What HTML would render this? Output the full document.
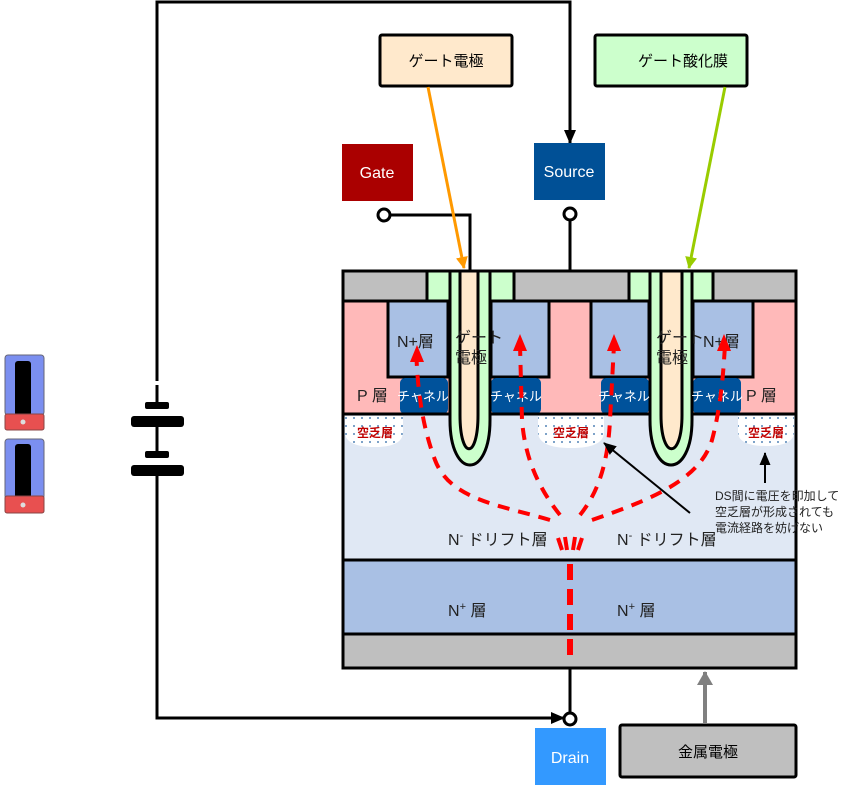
<!DOCTYPE html>
<html><head><meta charset="utf-8"><style>
body{margin:0;background:#fff}
svg{display:block;font-family:"Liberation Sans","Noto Sans CJK JP",sans-serif}
</style></head><body>
<svg width="866" height="785" viewBox="0 0 866 785" xmlns="http://www.w3.org/2000/svg">
<defs>
<marker id="ab" markerWidth="14" markerHeight="12" refX="13" refY="6" orient="auto" markerUnits="userSpaceOnUse"><path d="M0,0L14,6L0,12z" fill="#000"/></marker>
<marker id="ao" markerWidth="12" markerHeight="12" refX="11" refY="6" orient="auto" markerUnits="userSpaceOnUse"><path d="M0,0L12,6L0,12z" fill="#ff9900"/></marker>
<marker id="ag" markerWidth="12" markerHeight="12" refX="11" refY="6" orient="auto" markerUnits="userSpaceOnUse"><path d="M0,0L12,6L0,12z" fill="#99cc00"/></marker>
<marker id="ak" markerWidth="14" markerHeight="16" refX="13" refY="8" orient="auto" markerUnits="userSpaceOnUse"><path d="M0,0L14,8L0,16z" fill="#808080"/></marker>
<marker id="aa" markerWidth="13" markerHeight="11" refX="12" refY="5.5" orient="auto" markerUnits="userSpaceOnUse"><path d="M0,0L13,5.5L0,11z" fill="#000"/></marker>
<pattern id="dots" width="8" height="8" patternUnits="userSpaceOnUse"><circle cx="2" cy="2" r="0.9" fill="#2060a0"/></pattern>
</defs>

<g>
<rect x="5" y="355" width="39" height="60" rx="3" fill="#7b8ff0" stroke="#667"/>
<rect x="15" y="361" width="16" height="55" rx="3" fill="#000"/>
<rect x="5" y="414" width="39" height="16" rx="2" fill="#e85050" stroke="#844"/>
<circle cx="23" cy="422" r="2.5" fill="#ddd"/>
<rect x="5" y="439" width="39" height="60" rx="3" fill="#7b8ff0" stroke="#667"/>
<rect x="15" y="444" width="16" height="55" rx="3" fill="#000"/>
<rect x="5" y="496" width="39" height="17" rx="2" fill="#e85050" stroke="#844"/>
<circle cx="23" cy="505" r="2.5" fill="#ddd"/>
</g>

<path d="M157,381 V2 H570 V143" fill="none" stroke="#000" stroke-width="3" marker-end="url(#ab)"/>
<path d="M157,475 V718 H564" fill="none" stroke="#000" stroke-width="3" marker-end="url(#ab)"/>
<path d="M157,385 V403" stroke="#000" stroke-width="3"/>
<rect x="145" y="402" width="24" height="7" rx="2"/>
<rect x="131" y="416" width="53" height="11" rx="3"/>
<path d="M157,427 V452" stroke="#000" stroke-width="3"/>
<rect x="145" y="451" width="24" height="7" rx="2"/>
<rect x="131" y="465" width="53" height="11" rx="3"/>

<path d="M390,215 H470 V271" fill="none" stroke="#000" stroke-width="3"/>
<path d="M570,220 V271" stroke="#000" stroke-width="3"/>
<path d="M570,668 V713" stroke="#000" stroke-width="3"/>

<rect x="380" y="35" width="132" height="51" rx="2" fill="#ffe9cc" stroke="#000" stroke-width="3"/>
<text x="446" y="66" font-size="15" text-anchor="middle">ゲート電極</text>
<rect x="595" y="35" width="152" height="51" rx="2" fill="#ccffcc" stroke="#000" stroke-width="3"/>
<text x="683" y="66" font-size="15" text-anchor="middle">ゲート酸化膜</text>

<rect x="342" y="144" width="71" height="57" fill="#aa0000"/>
<text x="377" y="178" font-size="16" fill="#fff" text-anchor="middle">Gate</text>
<rect x="534" y="143" width="71" height="57" fill="#005096"/>
<text x="569" y="177" font-size="16" fill="#fff" text-anchor="middle">Source</text>

<rect x="343" y="301" width="453" height="113" fill="#ffb9b9"/>
<rect x="343" y="414" width="453" height="146" fill="#e0e8f4"/>
<rect x="343" y="560" width="453" height="74" fill="#a9c0e4"/>
<rect x="343" y="634" width="453" height="34" fill="#bfbfbf"/>
<rect x="343" y="271" width="453" height="30" fill="#bfbfbf"/>
<rect x="427" y="271" width="87" height="30" fill="#ccffcc"/>
<rect x="629" y="271" width="84" height="30" fill="#ccffcc"/>
<path d="M343,301 H427 M514,301 H629 M713,301 H796" stroke="#000" stroke-width="3"/>
<path d="M427,271 V301 M514,271 V301 M629,271 V301 M713,271 V301" stroke="#000" stroke-width="3"/>

<g fill="#a9c0e4" stroke="#000" stroke-width="3">
<rect x="388" y="301" width="60" height="76"/>
<rect x="491" y="301" width="58" height="76"/>
<rect x="591" y="301" width="58" height="76"/>
<rect x="693" y="301" width="60" height="76"/>
</g>
<g fill="#00529b">
<rect x="400" y="378" width="48" height="36" rx="5"/>
<rect x="491" y="378" width="50" height="36" rx="5"/>
<rect x="601" y="378" width="48" height="36" rx="5"/>
<rect x="693" y="378" width="48" height="36" rx="5"/>
</g>
<path d="M343,414 H796 M343,560 H796 M343,634 H796" stroke="#000" stroke-width="3"/>

<g>
<path d="M345,416 H403 V432 Q403,447 375,447 Q345,447 345,432Z" fill="#fff"/>
<path d="M345,416 H403 V432 Q403,447 375,447 Q345,447 345,432Z" fill="url(#dots)"/>
<path d="M538,416 H604 V432 Q604,448 571,448 Q538,448 538,432Z" fill="#fff"/>
<path d="M538,416 H604 V432 Q604,448 571,448 Q538,448 538,432Z" fill="url(#dots)"/>
<path d="M738,416 H794 V432 Q794,446 766,446 Q738,446 738,432Z" fill="#fff"/>
<path d="M738,416 H794 V432 Q794,446 766,446 Q738,446 738,432Z" fill="url(#dots)"/>
</g>
<g font-size="12" fill="#c00000" font-weight="bold" text-anchor="middle">
<text x="375" y="437">空乏層</text>
<text x="571" y="437">空乏層</text>
<text x="766" y="437">空乏層</text>
</g>

<path d="M450,271 V420 C450,480 490,480 490,420 V271Z" fill="#ccffcc" stroke="#000" stroke-width="3"/>
<path d="M460,271 V415 C460,460 478,460 478,415 V271Z" fill="#ffe9cc" stroke="#000" stroke-width="3"/>
<path d="M650,271 V420 C650,480 692,480 692,420 V271Z" fill="#ccffcc" stroke="#000" stroke-width="3"/>
<path d="M661,271 V415 C661,460 682,460 682,415 V271Z" fill="#ffe9cc" stroke="#000" stroke-width="3"/>
<rect x="343" y="271" width="453" height="397" fill="none" stroke="#000" stroke-width="3"/>

<g font-size="16" fill="#222">
<text x="397" y="347">N+層</text>
<text x="703" y="347">N+層</text>
<text x="357" y="401">P 層</text>
<text x="746" y="401">P 層</text>
<text x="455" y="343">ゲート</text><text x="455" y="363">電極</text>
<text x="656" y="343">ゲート</text><text x="656" y="363">電極</text>
<text x="448" y="545">N<tspan font-size="11" dy="-6">-</tspan><tspan dy="6"> ドリフト層</tspan></text>
<text x="617" y="545">N<tspan font-size="11" dy="-6">-</tspan><tspan dy="6"> ドリフト層</tspan></text>
<text x="448" y="616">N<tspan font-size="11" dy="-6">+</tspan><tspan dy="6"> 層</tspan></text>
<text x="617" y="616">N<tspan font-size="11" dy="-6">+</tspan><tspan dy="6"> 層</tspan></text>
</g>
<g font-size="13" fill="#fff">
<text x="397" y="401">チャネル</text>
<text x="490" y="401">チャネル</text>
<text x="598" y="401">チャネル</text>
<text x="691" y="401">チャネル</text>
</g>
<g font-size="12" fill="#222">
<text x="715" y="500">DS間に電圧を印加して</text>
<text x="715" y="516">空乏層が形成されても</text>
<text x="715" y="532">電流経路を妨げない</text>
</g>

<g fill="none" stroke="#ff0000" stroke-width="4" stroke-dasharray="12 9">
<path d="M550,520 C500,505 450,500 435,460 C420,420 417,380 416,345"/>
<path d="M560,515 C540,490 525,460 522,420 L520,345"/>
<path d="M580,515 C600,490 608,460 610,420 L614,345"/>
<path d="M592,520 C650,500 700,480 712,440 C720,410 723,380 725,345"/>
</g>
<g stroke="#ff0000" stroke-width="4">
<path d="M558,538 L562,550 M565,537 L567,550 M575,537 L573,550 M582,538 L578,550"/>
</g>
<path d="M570,564 V664" stroke="#ff0000" stroke-width="6" stroke-dasharray="16 9"/>
<path d="M417,345 L410,362 L424,362Z M520,334 L513,351 L527,351Z M614,334 L607,351 L621,351Z M724,334 L717,351 L731,351Z" fill="#ff0000"/>

<path d="M690,513 L604,443" stroke="#000" stroke-width="2" marker-end="url(#aa)"/>
<path d="M765,483 V453" stroke="#000" stroke-width="2" marker-end="url(#aa)"/>

<path d="M428,87 L464,268" stroke="#ff9900" stroke-width="3" marker-end="url(#ao)"/>
<path d="M725,87 L689,268" stroke="#99cc00" stroke-width="3" marker-end="url(#ag)"/>

<circle cx="384" cy="215" r="6" fill="#fff" stroke="#000" stroke-width="3"/>
<circle cx="570" cy="214" r="6" fill="#fff" stroke="#000" stroke-width="3"/>
<circle cx="570" cy="719" r="6" fill="#fff" stroke="#000" stroke-width="3"/>

<rect x="535" y="728" width="71" height="57" fill="#3399ff"/>
<text x="570" y="763" font-size="16" fill="#fff" text-anchor="middle">Drain</text>
<rect x="620" y="725" width="176" height="52" rx="2" fill="#bfbfbf" stroke="#000" stroke-width="3"/>
<text x="708" y="757" font-size="15" text-anchor="middle">金属電極</text>
<path d="M705,724 V672" stroke="#808080" stroke-width="4" marker-end="url(#ak)"/>
</svg>
</body></html>
